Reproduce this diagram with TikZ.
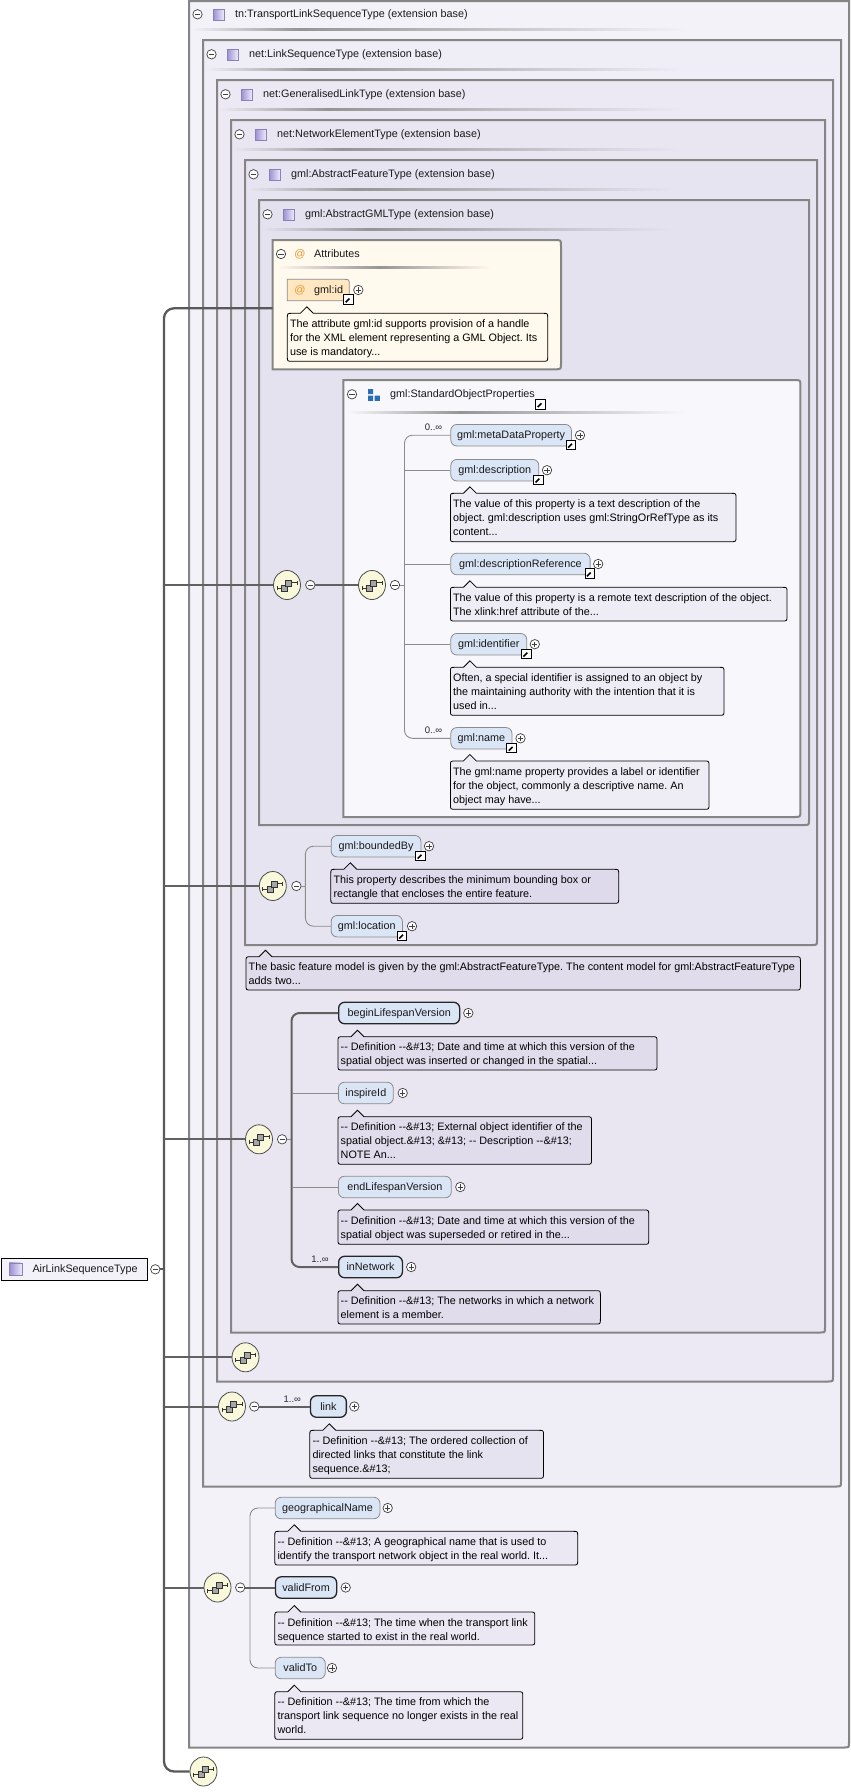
\documentclass[tikz,border=0pt]{standalone}
\usepackage{fontspec}
\setmainfont{Liberation Sans}
\usetikzlibrary{shapes.geometric}
\frenchspacing
\definecolor{cA}{HTML}{F4F2F9}
\definecolor{cB}{HTML}{EFEDF6}
\definecolor{cC}{HTML}{ECE9F4}
\definecolor{cD}{HTML}{E9E6F2}
\definecolor{cE}{HTML}{E7E4F1}
\definecolor{cF}{HTML}{E5E2F0}
\definecolor{attrfill}{HTML}{FFF9EE}
\definecolor{idfill}{HTML}{FFE7C2}
\definecolor{sopfill}{HTML}{F8F8FC}
\definecolor{elemfill}{HTML}{DAE5F5}
\definecolor{boxgray}{HTML}{858585}
\definecolor{hdrdark}{HTML}{959595}
\definecolor{seqfill}{HTML}{FAF8DA}
\definecolor{atcol}{HTML}{E8982A}
\definecolor{sopblue}{HTML}{2D6DB5}
\definecolor{iconL}{HTML}{9C8FD4}
\definecolor{iconR}{HTML}{EEEBFA}
\definecolor{iconB}{HTML}{8A82B5}
\definecolor{notetint}{HTML}{7864AA}
\tikzset{
 boxline/.style={draw=boxgray, line width=2pt},
 smallc/.style={circle, draw=black!75, fill=white, line width=0.7pt, minimum size=9.4pt, inner sep=0pt},
 minusc/.style={smallc, path picture={\draw[line width=0.8pt] ([xshift=-2.6pt]path picture bounding box.center) -- ([xshift=2.6pt]path picture bounding box.center);}},
 plusc/.style={smallc, path picture={\draw[line width=0.8pt] ([xshift=-2.6pt]path picture bounding box.center) -- ([xshift=2.6pt]path picture bounding box.center) ([yshift=-2.6pt]path picture bounding box.center) -- ([yshift=2.6pt]path picture bounding box.center);}},
 ticon/.style={rectangle, draw=iconB, line width=0.6pt, left color=iconL, right color=iconR, minimum width=11pt, minimum height=11pt, inner sep=0pt},
 htext/.style={anchor=west, inner sep=0pt, font=\fontsize{10.8}{13}\selectfont, text=black!90, text height=8.5pt, text depth=1.5pt},
 ntext/.style={anchor=base west, inner sep=0pt, font=\fontsize{10.8}{13}\selectfont, text=black},
 notebox/.style={draw=black, line width=0.8pt, fill=notetint, fill opacity=0.07},
 elem/.style={rectangle, anchor=west, rounded corners=6pt, minimum height=21.5pt, inner sep=0pt, fill=elemfill, draw=black!45, line width=0.8pt, font=\fontsize{10.8}{13}\selectfont, text=black!90, text height=8.5pt, text depth=1.5pt},
 mand/.style={draw=black!85, line width=1.3pt},
 seq/.style={ellipse, draw=black!70, fill=seqfill, line width=0.8pt, minimum width=27pt, minimum height=29pt, inner sep=0pt,
   path picture={\begin{scope}[shift={(path picture bounding box.center)}]
     \draw[black!80, line width=0.7pt] (-10pt,-3pt) -- (-5.5pt,-3pt) (-10pt,-5pt) -- (-10pt,-1pt) (4.5pt,2.5pt) -- (10pt,2.5pt) (10pt,0.5pt) -- (10pt,4.5pt);
     \filldraw[fill=black!35, draw=black!80, line width=0.6pt] (-5.5pt,0pt) rectangle (0.5pt,-6pt);
     \filldraw[fill=black!35, draw=black!80, line width=0.6pt] (-1.5pt,5pt) rectangle (4.5pt,-1pt);
   \end{scope}}},
 linkic/.style={rectangle, draw=black, fill=white, line width=0.9pt, minimum size=9.5pt, inner sep=0pt,
   path picture={\draw[line width=1.6pt] ([shift={(-2.8pt,-2.8pt)}]path picture bounding box.center) -- ([shift={(1.5pt,1.5pt)}]path picture bounding box.center);
     \fill ([shift={(3.4pt,3.4pt)}]path picture bounding box.center) -- ([shift={(-1.2pt,3.4pt)}]path picture bounding box.center) -- ([shift={(3.4pt,-1.2pt)}]path picture bounding box.center) -- cycle;}},
 trunkline/.style={draw=black!65, line width=2.3pt},
 thickc/.style={draw=black!62, line width=2pt},
 thinc/.style={draw=black!45, line width=0.9pt},
 card/.style={font=\fontsize{9.5}{10}\selectfont, inner sep=0pt, text=black!85},
 atsign/.style={text=atcol, font=\fontsize{11}{12}\selectfont, inner sep=0pt},
}
% type box: L T R B fill (bottom-right rounded)
\newcommand\tbox[5]{\filldraw[boxline, fill=#5] (#1,#2) -- (#3,#2) -- (#3,{#4-5}) .. controls (#3,#4) .. ({#3-5},#4) -- (#1,#4) -- cycle;}
% group box: top-right and bottom-right rounded
\newcommand\gbox[5]{\filldraw[boxline, fill=#5] (#1,#2) -- ({#3-6},#2) .. controls (#3,#2) .. (#3,{#2+6}) -- (#3,{#4-6}) .. controls (#3,#4) .. ({#3-6},#4) -- (#1,#4) -- cycle;}
% header: id L T text gradEnd fill
\newcommand\thead[6]{%
 \node[minusc] (#1m) at ({#2+8.5},{#3+14.3}) {};
 \node[ticon] (#1i) at ({#2+29.5},{#3+14.5}) {};
 \node[htext] (#1t) at ({#2+46},{#3+14.3}) {#4};
 \shade[left color=#6, right color=hdrdark] ({#2+2},{#3+28}) rectangle ({#2+110},{#3+30.2});
 \shade[left color=hdrdark, right color=#6] ({#2+110},{#3+28}) rectangle (#5,{#3+30.2});}
% gradient only: x0 xm x1 y fill
\newcommand\gline[5]{%
 \shade[left color=#5, right color=hdrdark] (#1,{#4-1.1}) rectangle (#2,{#4+1.1});
 \shade[left color=hdrdark, right color=#5] (#2,{#4-1.1}) rectangle (#3,{#4+1.1});}
% note box: [style] L T R B
\newcommand\notebx[5][]{\filldraw[notebox,#1] (#2,{#3+5}) .. controls (#2,#3) .. ({#2+5},#3) -- ({#2+13},#3) -- ({#2+19.5},{#3-6.5}) -- ({#2+26},#3) -- ({#4-5},#3) .. controls (#4,#3) .. (#4,{#3+5}) -- (#4,{#5-5}) .. controls (#4,#5) .. ({#4-5},#5) -- ({#2+5},#5) .. controls (#2,#5) .. (#2,{#5-5}) -- cycle;}
% note line: name L T k text
\newcommand\nln[5]{\node[ntext] (#1) at ({#2+2.5},{#3+14.2+14*(#4-1)}) {#5};}
\begin{document}
\begin{tikzpicture}[x=1pt,y=-1pt]
\useasboundingbox (0,0) rectangle (851,1792);
% ---------- nested type boxes
\tbox{189}{1}{849}{1747.5}{cA}
\thead{hA}{189}{0}{tn:TransportLinkSequenceType (extension base)}{687}{cA}
\tbox{203}{40}{841}{1486.5}{cB}
\thead{hB}{203}{40}{net:LinkSequenceType (extension base)}{684}{cB}
\tbox{217}{80}{833}{1381.5}{cC}
\thead{hC}{217}{80}{net:GeneralisedLinkType (extension base)}{682}{cC}
\tbox{231}{120}{825}{1332.5}{cD}
\thead{hD}{231}{120}{net:NetworkElementType (extension base)}{679}{cD}
\tbox{245}{160}{817}{945}{cE}
\thead{hE}{245}{160}{gml:AbstractFeatureType (extension base)}{676}{cE}
\tbox{259}{200}{809}{825}{cF}
\thead{hF}{259}{200}{gml:AbstractGMLType (extension base)}{672}{cF}
% ---------- Attributes
\gbox{272.7}{240}{561}{369.3}{attrfill}
\node[minusc] (atm) at (281,254) {};
\node[atsign] (ati) at (300,254) {@};
\node[htext] (att) at (314,254) {Attributes};
\gline{277}{380}{490}{267.6}{attrfill}
\filldraw[fill=idfill, draw=black!45, line width=0.8pt] (287.3,279.3) -- (343.3,279.3) .. controls (349.3,279.3) .. (349.3,285.3) -- (349.3,300.7) -- (287.3,300.7) -- cycle;
\node[atsign] (idat) at (300,290.5) {@};
\node[htext] (idt) at (314,290.3) {gml:id};
\node[plusc] (idp) at (358.3,290) {};
\node[linkic] (idk) at (348.5,299.5) {};
\notebx[fill=attrfill, fill opacity=1]{287.3}{313.3}{547.7}{361.3}
\nln{nid1}{287.3}{313.3}{1}{The attribute gml:id supports provision of a handle}
\nln{nid2}{287.3}{313.3}{2}{for the XML element representing a GML Object. Its}
\nln{nid3}{287.3}{313.3}{3}{use is mandatory...}
% ---------- StandardObjectProperties
\gbox{343.3}{380}{800.4}{817}{sopfill}
\node[minusc] (sopm) at (352,394.3) {};
\fill[sopblue] (368,389) rectangle (373.2,394.2) (368,395.7) rectangle (373.2,400.9) (374.6,395.7) rectangle (379.8,400.9);
\node[htext] (sopt) at (390,394.3) {gml:StandardObjectProperties};
\node[linkic] (sopk) at (540.5,404.3) {};
\gline{347}{460}{685}{412.7}{sopfill}
\node[elem, minimum width=120.6] (e-mdp) at (450.4,435.2) {gml:metaDataProperty};
\node[plusc] (p-mdp) at (580,435.2) {};
\node[linkic] (k-mdp) at (571,444.7) {};
\node[card] (c-mdp) at (433.5,427.3) {0..∞};
\node[elem, minimum width=88] (e-desc) at (450.4,470.2) {gml:description};
\node[plusc] (p-desc) at (547,470.2) {};
\node[linkic] (k-desc) at (538.4,479.7) {};
\notebx{450.4}{493.3}{736}{541.7}
\nln{nde1}{450.4}{493.3}{1}{The value of this property is a text description of the}
\nln{nde2}{450.4}{493.3}{2}{object. gml:description uses gml:StringOrRefType as its}
\nln{nde3}{450.4}{493.3}{3}{content...}
\node[elem, minimum width=139.3] (e-dref) at (450.4,564) {gml:descriptionReference};
\node[plusc] (p-dref) at (598.2,564) {};
\node[linkic] (k-dref) at (589.7,573.5) {};
\notebx{450.4}{587.3}{787}{621}
\nln{ndr1}{450.4}{587.3}{1}{The value of this property is a remote text description of the object.}
\nln{ndr2}{450.4}{587.3}{2}{The xlink:href attribute of the...}
\node[elem, minimum width=75.9] (e-ident) at (450.4,644.2) {gml:identifier};
\node[plusc] (p-ident) at (534.8,644.2) {};
\node[linkic] (k-ident) at (526.3,653.7) {};
\notebx{450.4}{667.3}{724}{715.3}
\nln{nid4}{450.4}{667.3}{1}{Often, a special identifier is assigned to an object by}
\nln{nid5}{450.4}{667.3}{2}{the maintaining authority with the intention that it is}
\nln{nid6}{450.4}{667.3}{3}{used in...}
\node[elem, minimum width=61.2] (e-name) at (450.4,738.3) {gml:name};
\node[plusc] (p-name) at (520.5,738.3) {};
\node[linkic] (k-name) at (511.6,747.8) {};
\node[card] (c-name) at (433.5,730.7) {0..∞};
\notebx{450.4}{761}{709}{809.3}
\nln{nnm1}{450.4}{761}{1}{The gml:name property provides a label or identifier}
\nln{nnm2}{450.4}{761}{2}{for the object, commonly a descriptive name. An}
\nln{nnm3}{450.4}{761}{3}{object may have...}
% ---------- AbstractFeatureType content
\node[elem, minimum width=89.7] (e-bb) at (330.8,846.2) {gml:boundedBy};
\node[plusc] (p-bb) at (429,846.2) {};
\node[linkic] (k-bb) at (420.5,855.7) {};
\notebx{330.8}{869.3}{618.7}{903.3}
\nln{nbb1}{330.8}{869.3}{1}{This property describes the minimum bounding box or}
\nln{nbb2}{330.8}{869.3}{2}{rectangle that encloses the entire feature.}
\node[elem, minimum width=71.2] (e-loc) at (330.8,926.2) {gml:location};
\node[plusc] (p-loc) at (412,926.2) {};
\node[linkic] (k-loc) at (402,935.7) {};
\notebx{246}{956.7}{800.4}{990}
\nln{nft1}{246}{956.7}{1}{The basic feature model is given by the gml:AbstractFeatureType. The content model for gml:AbstractFeatureType}
\nln{nft2}{246}{956.7}{2}{adds two...}
% ---------- NetworkElementType content
\node[elem, mand, minimum width=121] (e-begin) at (338,1013) {beginLifespanVersion};
\node[plusc] (p-begin) at (468.3,1013) {};
\notebx{338}{1036.7}{657}{1070}
\nln{nbg1}{338}{1036.7}{1}{-{}- Definition -{}-\&\#13; Date and time at which this version of the}
\nln{nbg2}{338}{1036.7}{2}{spatial object was inserted or changed in the spatial...}
\node[elem, minimum width=54.9] (e-insp) at (338,1093) {inspireId};
\node[plusc] (p-insp) at (402.7,1093) {};
\notebx{338}{1116.7}{591.5}{1164.3}
\nln{nin1}{338}{1116.7}{1}{-{}- Definition -{}-\&\#13; External object identifier of the}
\nln{nin2}{338}{1116.7}{2}{spatial object.\&\#13; \&\#13; -{}- Description -{}-\&\#13;}
\nln{nin3}{338}{1116.7}{3}{NOTE An...}
\node[elem, minimum width=112.9] (e-end) at (338,1187) {endLifespanVersion};
\node[plusc] (p-end) at (460.3,1187) {};
\notebx{338}{1210}{648.7}{1244.3}
\nln{nen1}{338}{1210}{1}{-{}- Definition -{}-\&\#13; Date and time at which this version of the}
\nln{nen2}{338}{1210}{2}{spatial object was superseded or retired in the...}
\node[elem, mand, minimum width=63.8] (e-net) at (338,1267) {inNetwork};
\node[plusc] (p-net) at (411.2,1267) {};
\node[card] (c-net) at (320,1259.3) {1..∞};
\notebx{338}{1290.7}{600.4}{1324}
\nln{nnw1}{338}{1290.7}{1}{-{}- Definition -{}-\&\#13; The networks in which a network}
\nln{nnw2}{338}{1290.7}{2}{element is a member.}
% ---------- LinkSequenceType content
\node[elem, mand, minimum width=35.9] (e-link) at (309.8,1406.5) {link};
\node[plusc] (p-link) at (354.3,1406.5) {};
\node[card] (c-link) at (292.3,1399.3) {1..∞};
\notebx{309.8}{1430.3}{543.5}{1478.3}
\nln{nlk1}{309.8}{1430.3}{1}{-{}- Definition -{}-\&\#13; The ordered collection of}
\nln{nlk2}{309.8}{1430.3}{2}{directed links that constitute the link}
\nln{nlk3}{309.8}{1430.3}{3}{sequence.\&\#13;}
% ---------- TransportLinkSequenceType content
\node[elem, minimum width=104.7] (e-geo) at (274.8,1508) {geographicalName};
\node[plusc] (p-geo) at (387.7,1508) {};
\notebx{274.8}{1531.3}{577.7}{1565}
\nln{ngn1}{274.8}{1531.3}{1}{-{}- Definition -{}-\&\#13; A geographical name that is used to}
\nln{ngn2}{274.8}{1531.3}{2}{identify the transport network object in the real world. It...}
\node[elem, mand, minimum width=61.2] (e-from) at (274.8,1587.5) {validFrom};
\node[plusc] (p-from) at (345.7,1587.5) {};
\notebx{274.8}{1612}{534.8}{1645}
\nln{nvf1}{274.8}{1612}{1}{-{}- Definition -{}-\&\#13; The time when the transport link}
\nln{nvf2}{274.8}{1612}{2}{sequence started to exist in the real world.}
\node[elem, minimum width=50] (e-to) at (274.8,1668) {validTo};
\node[plusc] (p-to) at (332,1668) {};
\notebx{274.8}{1691.7}{522.8}{1739.3}
\nln{nvt1}{274.8}{1691.7}{1}{-{}- Definition -{}-\&\#13; The time from which the}
\nln{nvt2}{274.8}{1691.7}{2}{transport link sequence no longer exists in the real}
\nln{nvt3}{274.8}{1691.7}{3}{world.}
% ---------- root
\node[draw=black, line width=1pt, fill=cA, anchor=north west, minimum width=146, minimum height=22, inner sep=0pt] (air) at (0.5,1258.3) {};
\node[ticon, minimum width=12.7pt, minimum height=12.7pt] (airi) at (15.7,1269.3) {};
\node[htext] (airt) at (32.3,1269.3) {AirLinkSequenceType};
\node[minusc] (airm) at (155.3,1269.3) {};
% ---------- sequence compositors
\node[seq] (sA) at (287,585) {};
\node[minusc] (mA) at (310.3,585) {};
\node[seq] (sB) at (372,585) {};
\node[minusc] (mB) at (395,585) {};
\node[seq] (sC) at (272.8,886) {};
\node[minusc] (mC) at (296.4,886) {};
\node[seq] (sD) at (259,1139.3) {};
\node[minusc] (mD) at (282.1,1139.3) {};
\node[seq] (sE) at (245.5,1357.3) {};
\node[seq] (sF) at (232,1406.5) {};
\node[minusc] (mF) at (254.3,1406.5) {};
\node[seq] (sG) at (217.5,1587.5) {};
\node[minusc] (mG) at (240.2,1587.5) {};
\node[seq] (sH) at (203.5,1771.5) {};
% ---------- connectors
\coordinate (trk) at (164,308.3);
\coordinate (attw) at (272.7,308.3);
\draw[trunkline, rounded corners=10pt] (attw) -- (trk) -- (trk |- sH.west) -- (sH.west);
\foreach \s in {sA,sC,sD,sE,sF,sG} \draw[thickc] (trk |- \s.west) -- (\s.west);
\draw[trunkline] (airm.east) -- (airm.east -| trk);
\draw[thickc] (mA.east) -- (sB.west);
\coordinate (vB) at (404.5,585);
\draw[thinc] (mB.east) -- (vB);
\draw[thinc, rounded corners=8pt] (e-mdp.west) -- (e-mdp.west -| vB) -- (e-name.west -| vB) -- (e-name.west);
\foreach \e in {e-desc,e-dref,e-ident} \draw[thinc] (\e.west -| vB) -- (\e.west);
\coordinate (vC) at (305.4,886);
\draw[thinc] (mC.east) -- (vC);
\draw[thinc, rounded corners=8pt] (e-bb.west) -- (e-bb.west -| vC) -- (e-loc.west -| vC) -- (e-loc.west);
\coordinate (vD) at (291.5,1139.3);
\draw[thinc] (mD.east) -- (vD);
\draw[thickc, rounded corners=8pt] (e-begin.west) -- (e-begin.west -| vD) -- (e-net.west -| vD) -- (e-net.west);
\foreach \e in {e-insp,e-end} \draw[thinc] (\e.west -| vD) -- (\e.west);
\draw[thickc] (mF.east) -- (e-link.west);
\coordinate (vG) at (250,1587.5);
\draw[thinc, rounded corners=8pt] (e-geo.west) -- (e-geo.west -| vG) -- (e-to.west -| vG) -- (e-to.west);
\draw[thickc] (mG.east) -- (e-from.west);
\end{tikzpicture}
\end{document}
